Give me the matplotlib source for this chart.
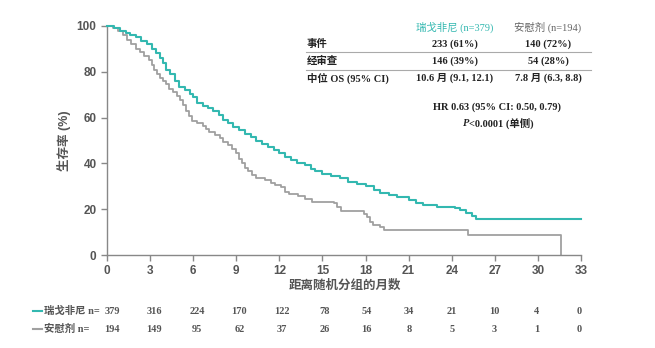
import matplotlib
matplotlib.use("Agg")
import matplotlib.pyplot as plt
from matplotlib.lines import Line2D

plt.rcParams['font.family'] = ['Liberation Sans', 'Noto Sans CJK SC', 'DejaVu Sans']

# Kaplan-Meier curves (months, survival %)
teal_months = [0, 0.5, 0.9, 1.3, 1.6, 2.0, 2.4, 2.8, 3.1, 3.4, 3.7, 3.9, 4.1, 4.4, 4.7, 5.0, 5.4, 5.8, 6.0, 6.3,
               6.7, 7.0, 7.4, 7.8, 8.1, 8.4, 8.8, 9.2, 9.6, 10.0, 10.4, 10.8, 11.2, 11.6, 12.0, 12.4, 12.8, 13.2, 13.8, 14.2,
               14.5, 15.0, 15.6, 16.2, 16.8, 17.4, 18.0, 18.6, 19.0, 19.6, 20.2, 21.0, 21.5, 22.0, 23.0, 24.2, 24.6, 25.0, 25.4, 25.7,
               33.0]
teal_surv = [100, 99, 98, 97, 96, 95, 93.5, 92, 90, 88, 86, 84, 81, 79, 76, 73.5, 72, 70.5, 69, 66.5,
             65, 64, 63, 61, 59, 57.5, 56, 54.6, 53, 51.5, 50, 48.5, 47, 45.8, 44.4, 43, 41.5, 40.3, 39.5, 37.5,
             36.5, 35.3, 34.5, 33.5, 32, 31, 30, 28.5, 27.2, 26, 25.2, 24.2, 22.8, 21.8, 21, 20.5, 19.5, 18.3, 17, 15.6,
             15.6]

grey_months = [0, 0.4, 0.8, 1.1, 1.4, 1.7, 2.0, 2.3, 2.6, 2.9, 3.1, 3.3, 3.5, 3.7, 3.9, 4.1, 4.3, 4.6, 4.9, 5.1,
               5.3, 5.5, 5.7, 5.9, 6.3, 6.7, 6.9, 7.1, 7.5, 7.9, 8.1, 8.4, 8.7, 9.0, 9.2, 9.4, 9.6, 9.8, 10.1, 10.4,
               11.0, 11.4, 11.7, 12.1, 12.4, 12.7, 13.3, 13.8, 14.3, 15.8, 16.0, 16.3, 17.9, 18.1, 18.3, 18.5, 19.0, 19.3, 25.1, 31.6]
grey_surv = [100, 99, 98, 96, 94, 92, 90, 88.5, 87, 85, 83, 81, 79, 77.5, 76, 74.5, 72.5, 71, 69.5, 67.5,
             65.5, 63, 60.5, 58.5, 57.5, 56.5, 55, 53.5, 52.5, 51, 49.5, 48, 46.5, 44.5, 42, 40, 38, 36.5, 35, 33.5,
             32.8, 31.5, 30.5, 29.5, 27.5, 26.5, 25.8, 24.5, 23.3, 22.5, 21.1, 19.4, 18, 16.5, 14.5, 13, 12.4, 10.9, 8.7, 0]

risk_months = [0, 3, 6, 9, 12, 15, 18, 21, 24, 27, 30, 33]
teal_risk = [379, 316, 224, 170, 122, 78, 54, 34, 21, 10, 4, 0]
grey_risk = [194, 149, 95, 62, 37, 26, 16, 8, 5, 3, 1, 0]

teal_name = '瑞戈非尼'
grey_name = '安慰剂'

TEAL = '#33b8b0'
GREY = '#a0a0a0'
TXT = '#555555'
W, H = 655, 348

fig = plt.figure(figsize=(W / 100, H / 100), dpi=100)
ax = fig.add_axes([107 / W, 1 - 255 / H, (581 - 107) / W, (255 - 26) / H])

ax.step(teal_months, teal_surv, where='post', color=TEAL, lw=1.5, clip_on=False, zorder=3)
ax.step(grey_months, grey_surv, where='post', color=GREY, lw=1.3, clip_on=False, zorder=2)

ax.set_xlim(0, 33)
ax.set_ylim(0, 100)
ax.set_xticks(risk_months)
ax.set_yticks(range(0, 101, 20))
for s in ['top', 'right']:
    ax.spines[s].set_visible(False)
for s in ['left', 'bottom']:
    ax.spines[s].set_color('#888888')
    ax.spines[s].set_linewidth(1.0)
ax.tick_params(colors='#888888', labelcolor=TXT, labelsize=8.5, length=4, width=1)
for lab in ax.get_xticklabels() + ax.get_yticklabels():
    lab.set_fontweight('bold')

ax.set_ylabel('生存率 (%)', fontsize=9, color=TXT, fontweight='bold', labelpad=4)
fig.text(345 / W, 1 - 286 / H, '距离随机分组的月数', fontsize=9, color=TXT, fontweight='bold',
         ha='center', va='center')

# summary table
serif = ['Liberation Serif', 'Noto Sans CJK SC']
tk = dict(fontsize=7.5, family=serif, fontweight='bold', va='center', color='#222222')
fig.text(455 / W, 1 - 27 / H, teal_name + ' (n=379)', ha='center', **{**tk, 'color': TEAL, 'fontweight': 'normal'})
fig.text(548 / W, 1 - 27 / H, grey_name + ' (n=194)', ha='center', **{**tk, 'color': '#666666', 'fontweight': 'normal'})
rows = [('事件', '233 (61%)', '140 (72%)', 44),
        ('经审查', '146 (39%)', '54 (28%)', 61),
        ('中位 OS (95% CI)', '10.6 月 (9.1, 12.1)', '7.8 月 (6.3, 8.8)', 78)]
for name, a, b, y in rows:
    fig.text(307 / W, 1 - y / H, name, ha='left', **tk)
    fig.text(455 / W, 1 - y / H, a, ha='center', **tk)
    fig.text(548 / W, 1 - y / H, b, ha='center', **tk)
for y in [52, 69.5]:
    fig.add_artist(Line2D([306 / W, 591 / W], [1 - y / H, 1 - y / H], color='#aaaaaa', lw=0.8))
fig.text(497 / W, 1 - 107 / H, 'HR 0.63 (95% CI: 0.50, 0.79)', ha='center', **tk)
fig.text(463 / W, 1 - 123 / H, 'P', ha='left', style='italic', **tk)
fig.text(469 / W, 1 - 123 / H, '<0.0001 (单侧)', ha='left', **tk)

# numbers at risk
x_start = (ax.transData.transform((0, 0))[0] + 5) / fig.bbox.width
x_end = (ax.transData.transform((33, 0))[0] - 2) / fig.bbox.width
for y, name, col, counts in [(311, teal_name, TEAL, teal_risk), (329, grey_name, GREY, grey_risk)]:
    fig.add_artist(Line2D([33 / W, 42 / W], [1 - y / H, 1 - y / H], color=col, lw=1.5))
    fig.text(44 / W, 1 - y / H, name + ' n=', ha='left', va='center', fontsize=7.5, color=TXT,
             family=serif, fontweight='bold')
    for m, c in zip(risk_months, counts):
        xf = x_start + (x_end - x_start) * m / 33
        fig.text(xf, 1 - y / H, str(c), ha='center', va='center', fontsize=7.5, color=TXT,
                 family=serif, fontweight='bold')

fig.savefig('out.png', dpi=100)
